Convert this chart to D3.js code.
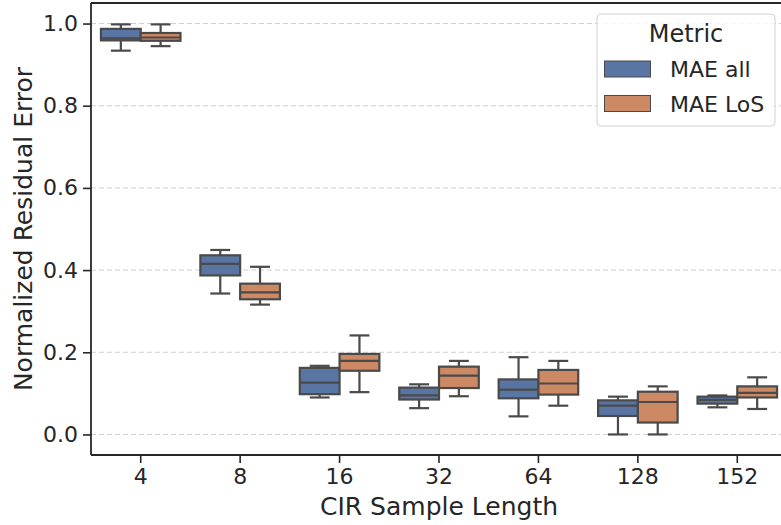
<!DOCTYPE html>
<html>
<head>
<meta charset="utf-8">
<script src="https://cdn.jsdelivr.net/npm/d3@7"></script>
<style>
  html, body { margin: 0; padding: 0; background: #fff; }
  svg { display: block; font-family: "DejaVu Sans", sans-serif; }
</style>
</head>
<body>
<svg id="chart" width="781" height="525"></svg>
<script>
// CIR sample lengths on the x axis
const categories = ["4", "8", "16", "32", "64", "128", "152"];
const metrics = ["MAE all", "MAE LoS"];
const yTicks = [0.0, 0.2, 0.4, 0.6, 0.8, 1.0];

// Box statistics per length: [lower whisker, Q1, median, Q3, upper whisker]
const maeAll = [
  [0.934, 0.959, 0.964, 0.987, 0.998],
  [0.343, 0.387, 0.415, 0.436, 0.449],
  [0.090, 0.098, 0.126, 0.162, 0.167],
  [0.064, 0.085, 0.095, 0.114, 0.122],
  [0.044, 0.088, 0.109, 0.134, 0.188],
  [0.000, 0.045, 0.070, 0.083, 0.092],
  [0.066, 0.075, 0.084, 0.092, 0.095]
];
const maeLoS = [
  [0.945, 0.958, 0.966, 0.977, 0.998],
  [0.316, 0.329, 0.346, 0.367, 0.408],
  [0.103, 0.155, 0.179, 0.196, 0.241],
  [0.093, 0.113, 0.143, 0.165, 0.179],
  [0.070, 0.097, 0.124, 0.157, 0.179],
  [0.000, 0.029, 0.079, 0.104, 0.117],
  [0.062, 0.090, 0.101, 0.117, 0.139]
];

const colors = ["#5975a4", "#cc8963"];
const lineColor = "#4a4a4a";
const axisColor = "#262626";

const svg = d3.select("#chart");
const plotLeft = 91, plotRight = 787, plotTop = 3, plotBottom = 455;

const x = d3.scaleBand().domain(categories).range([plotLeft, plotRight]).paddingInner(0).paddingOuter(0);
const y = d3.scaleLinear().domain([-0.05, 1.05]).range([plotBottom, plotTop]);
const xs = d3.scaleBand().domain(metrics).range([0, x.bandwidth() * 0.8]);

// horizontal dashed grid
svg.append("g")
  .selectAll("line")
  .data(yTicks)
  .join("line")
  .attr("x1", plotLeft).attr("x2", plotRight)
  .attr("y1", d => y(d)).attr("y2", d => y(d))
  .attr("stroke", "#cfcfcf")
  .attr("stroke-width", 1)
  .attr("stroke-dasharray", "5,3");

// boxes
const series = [maeAll, maeLoS];
const boxes = [];
categories.forEach((c, i) => {
  metrics.forEach((m, j) => {
    boxes.push({ c, m, j, s: series[j][i] });
  });
});

const g = svg.append("g");
const bw = xs.bandwidth();
boxes.forEach(b => {
  const x0 = x(b.c) + x.bandwidth() * 0.1 + xs(b.m);
  const cx = x0 + bw / 2;
  const [lo, q1, med, q3, hi] = b.s;
  const bg = g.append("g");
  // whiskers
  bg.append("line").attr("x1", cx).attr("x2", cx).attr("y1", y(q3)).attr("y2", y(hi))
    .attr("stroke", lineColor).attr("stroke-width", 2.2);
  bg.append("line").attr("x1", cx).attr("x2", cx).attr("y1", y(q1)).attr("y2", y(lo))
    .attr("stroke", lineColor).attr("stroke-width", 2.2);
  // caps
  [lo, hi].forEach(v => {
    bg.append("line").attr("x1", cx - bw / 4).attr("x2", cx + bw / 4)
      .attr("y1", y(v)).attr("y2", y(v))
      .attr("stroke", lineColor).attr("stroke-width", 2.2);
  });
  // box
  bg.append("rect")
    .attr("x", x0).attr("width", bw)
    .attr("y", y(q3)).attr("height", y(q1) - y(q3))
    .attr("fill", colors[b.j])
    .attr("stroke", lineColor).attr("stroke-width", 2.2);
  // median
  bg.append("line").attr("x1", x0).attr("x2", x0 + bw)
    .attr("y1", y(med)).attr("y2", y(med))
    .attr("stroke", lineColor).attr("stroke-width", 2.2);
});

// axes
const yAxis = svg.append("g").attr("transform", `translate(${plotLeft},0)`)
  .call(d3.axisLeft(y).tickValues(yTicks).tickFormat(d3.format(".1f")).tickSize(8).tickPadding(5));
const xAxis = svg.append("g").attr("transform", `translate(0,${plotBottom})`)
  .call(d3.axisBottom(x).tickSize(8).tickPadding(5));

[yAxis, xAxis].forEach(a => {
  a.select(".domain").remove();
  a.selectAll(".tick line").attr("stroke", axisColor).attr("stroke-width", 1.6);
  a.selectAll(".tick text").attr("fill", axisColor).style("font-size", "22px")
    .style("font-family", "DejaVu Sans, sans-serif");
});

// spines: left, bottom, top
svg.append("line").attr("x1", plotLeft).attr("x2", plotLeft).attr("y1", plotTop).attr("y2", plotBottom)
  .attr("stroke", axisColor).attr("stroke-width", 1.8);
svg.append("line").attr("x1", plotLeft).attr("x2", plotRight).attr("y1", plotBottom).attr("y2", plotBottom)
  .attr("stroke", axisColor).attr("stroke-width", 1.8);
svg.append("line").attr("x1", plotLeft).attr("x2", plotRight).attr("y1", plotTop).attr("y2", plotTop)
  .attr("stroke", axisColor).attr("stroke-width", 1.8);

// axis titles
svg.append("text")
  .attr("transform", `translate(32,${(plotTop + plotBottom) / 2}) rotate(-90)`)
  .attr("text-anchor", "middle")
  .attr("fill", axisColor)
  .style("font-size", "25px")
  .text("Normalized Residual Error");
svg.append("text")
  .attr("x", (plotLeft + plotRight) / 2).attr("y", 515)
  .attr("text-anchor", "middle")
  .attr("fill", axisColor)
  .style("font-size", "25px")
  .text("CIR Sample Length");

// legend
const lg = svg.append("g").attr("transform", "translate(597,14)");
lg.append("rect").attr("width", 178).attr("height", 112).attr("rx", 4)
  .attr("fill", "#fff").attr("fill-opacity", 0.8)
  .attr("stroke", "#d0d0d0").attr("stroke-width", 1);
lg.append("text").attr("x", 89).attr("y", 28).attr("text-anchor", "middle")
  .attr("fill", axisColor).style("font-size", "24px").text("Metric");
metrics.forEach((m, j) => {
  const yy = 47 + j * 34.5;
  lg.append("rect").attr("x", 7.5).attr("y", yy).attr("width", 46).attr("height", 16)
    .attr("fill", colors[j]).attr("stroke", lineColor).attr("stroke-width", 1);
  lg.append("text").attr("x", 73).attr("y", yy + 16).attr("fill", axisColor)
    .style("font-size", "22px").text(m);
});
</script>
</body>
</html>
